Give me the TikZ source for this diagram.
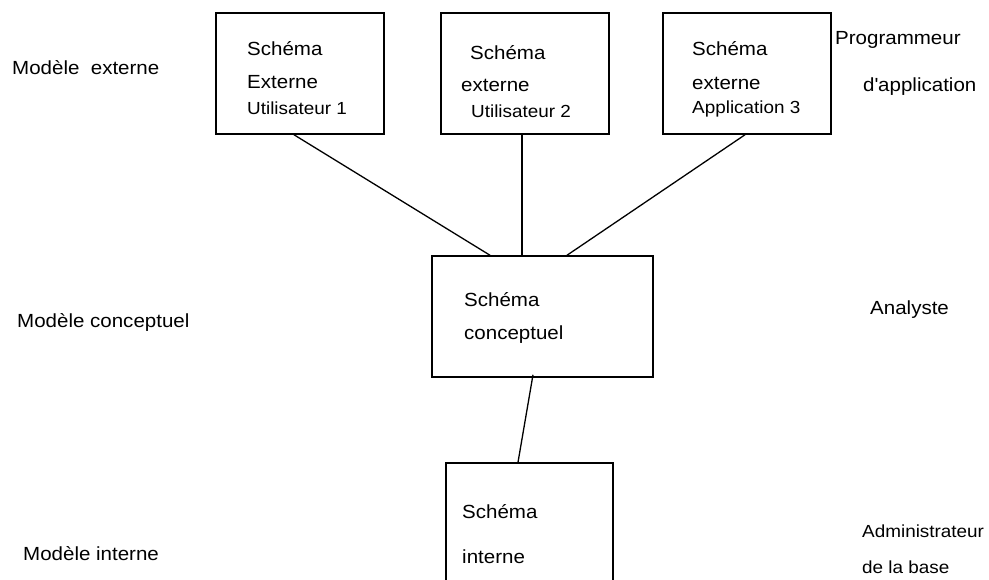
\documentclass[tikz,border=0pt]{standalone}
\usepackage{fontspec}
\setmainfont[FakeStretch=1.08]{Liberation Sans}
\usepackage{tikz}

\begin{document}
\begin{tikzpicture}[x=1pt,y=-1pt,font=\fontsize{19}{23}\selectfont,
    boite/.style={draw, line width=1.5pt, inner sep=0pt,
        minimum width=168pt, minimum height=121pt},
    texte/.style={anchor=base west, inner sep=0pt},
    petit/.style={texte, font=\fontsize{17.5}{21}\selectfont},
    lien/.style={line width=1.3pt}]

	\clip (0,0) rectangle (989,579);

	% les trois schemas externes
	\node [boite] (ext1) at (300,73.5) {};
	\node [boite] (ext2) at (525,73.5) {};
	\node [boite] (ext3) at (747,73.5) {};
	\node [boite,minimum width=221pt] (conc) at (542.5,316.5) {};
	\node [boite,minimum width=167pt,minimum height=160pt] (int) at (529.5,543) {};

	\node [texte] (e1a) at (247,55) {Schéma};
	\node [texte] (e1b) at (247,88) {Externe};
	\node [petit] (e1c) at (247,114) {Utilisateur 1};
	\node [texte] (e2a) at (470,59) {Schéma};
	\node [texte] (e2b) at (461,91) {externe};
	\node [petit] (e2c) at (471,117) {Utilisateur 2};
	\node [texte] (e3a) at (692,55) {Schéma};
	\node [texte] (e3b) at (692,89) {externe};
	\node [petit] (e3c) at (692,113) {Application 3};
	\node [texte] (ca) at (464,306) {Schéma};
	\node [texte] (cb) at (464,339) {conceptuel};
	\node [texte] (ia) at (462,518) {Schéma};
	\node [texte] (ib) at (462,563) {interne};

	% niveaux
	\node [texte] (mext) at (12,74) {Modèle\ \ externe};
	\node [texte] (mconc) at (17,327) {Modèle conceptuel};
	\node [texte] (mint) at (23,560) {Modèle interne};

	% acteurs
	\node [texte] (prog) at (835,44) {Programmeur};
	\node [texte] (app) at (863,91) {d\textquotesingle application};
	\node [texte] (ana) at (870,314) {Analyste};
	\node [petit] (adm) at (862,537) {Administrateur};
	\node [petit] (base) at (862,573) {de la base};

	\draw [lien] ([xshift=-6pt]ext1.south) -- ([xshift=-52.5pt]conc.north);
	\draw [lien] ([xshift=-3pt]ext2.south) -- ([xshift=-20.5pt]conc.north);
	\draw [lien] ([xshift=-2pt]ext3.south) -- ([xshift=24.5pt]conc.north);
	\draw [lien] ([xshift=-9.5pt,yshift=3pt]conc.south) -- ([xshift=-11.5pt]int.north);

\end{tikzpicture}
\end{document}
